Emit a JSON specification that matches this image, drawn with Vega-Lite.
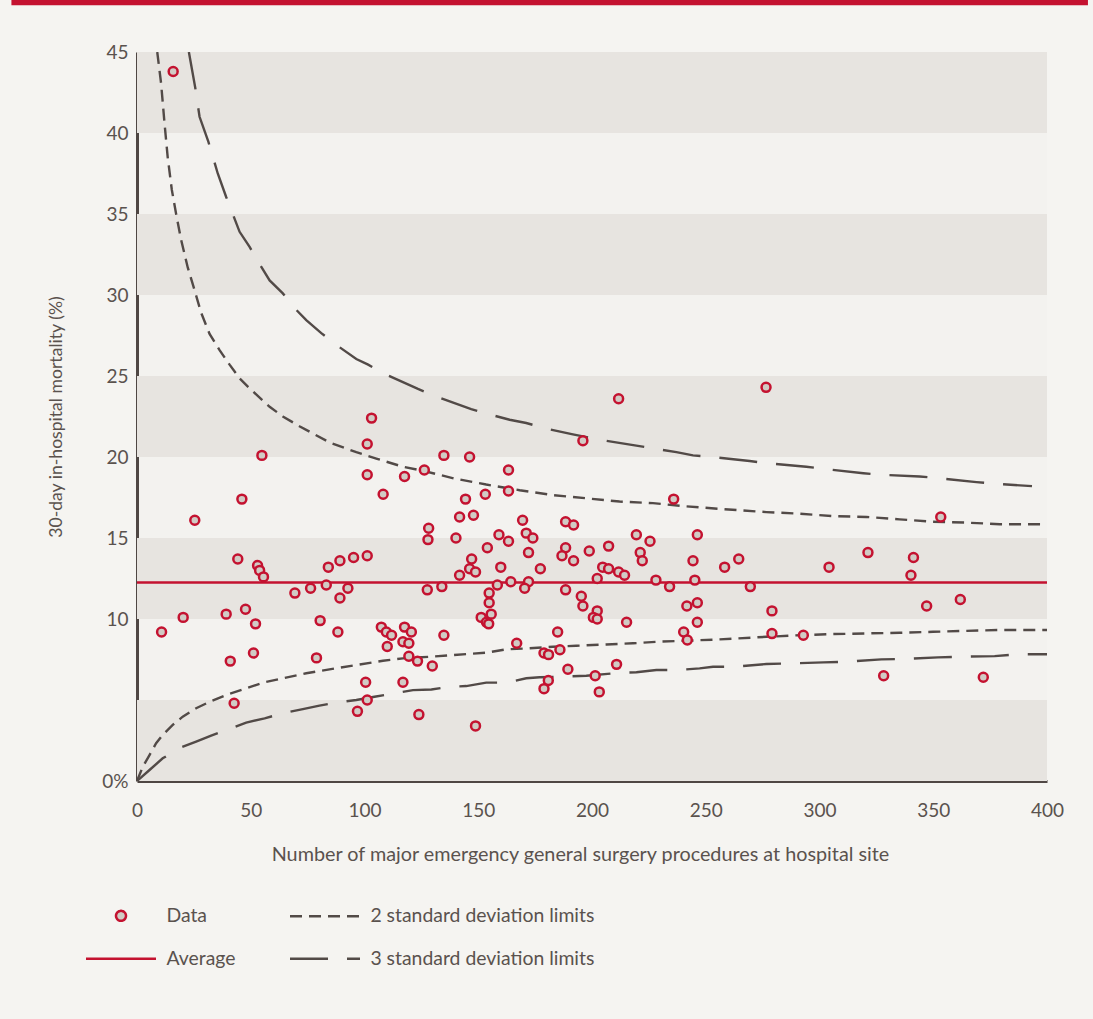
{
  "$schema": "https://vega.github.io/schema/vega-lite/v6.json",
  "width": 910,
  "height": 729,
  "autosize": {"type": "none"},
  "padding": {"left": 137, "top": 52, "right": 46, "bottom": 238},
  "background": "#f5f4f1",
  "datasets": {
    "bands": [
      {"lo": 0, "hi": 5, "from": 0, "to": 400},
      {"lo": 10, "hi": 15, "from": 0, "to": 400},
      {"lo": 20, "hi": 25, "from": 0, "to": 400},
      {"lo": 30, "hi": 35, "from": 0, "to": 400},
      {"lo": 40, "hi": 45, "from": 0, "to": 400}
    ],
    "banner": [
      {"left": -55.2, "right": 418, "bottom": 47.88, "top": 48.4}
    ],
    "limits": [
      {"series": "Average", "branch": "mid", "procedures": 0, "mortality": 12.25},
      {"series": "Average", "branch": "mid", "procedures": 400, "mortality": 12.25},

      {"series": "2 standard deviation limits", "branch": "upper", "procedures": 8.9, "mortality": 45.0},
      {"series": "2 standard deviation limits", "branch": "upper", "procedures": 10.6, "mortality": 43.05},
      {"series": "2 standard deviation limits", "branch": "upper", "procedures": 12.1, "mortality": 40.6},
      {"series": "2 standard deviation limits", "branch": "upper", "procedures": 13.5, "mortality": 38.5},
      {"series": "2 standard deviation limits", "branch": "upper", "procedures": 15.3, "mortality": 36.5},
      {"series": "2 standard deviation limits", "branch": "upper", "procedures": 17.2, "mortality": 35.0},
      {"series": "2 standard deviation limits", "branch": "upper", "procedures": 19.4, "mortality": 33.4},
      {"series": "2 standard deviation limits", "branch": "upper", "procedures": 22.3, "mortality": 31.7},
      {"series": "2 standard deviation limits", "branch": "upper", "procedures": 25.3, "mortality": 30.3},
      {"series": "2 standard deviation limits", "branch": "upper", "procedures": 28.2, "mortality": 28.9},
      {"series": "2 standard deviation limits", "branch": "upper", "procedures": 31.9, "mortality": 27.6},
      {"series": "2 standard deviation limits", "branch": "upper", "procedures": 36.3, "mortality": 26.6},
      {"series": "2 standard deviation limits", "branch": "upper", "procedures": 40.7, "mortality": 25.7},
      {"series": "2 standard deviation limits", "branch": "upper", "procedures": 45.1, "mortality": 24.85},
      {"series": "2 standard deviation limits", "branch": "upper", "procedures": 49.0, "mortality": 24.3},
      {"series": "2 standard deviation limits", "branch": "upper", "procedures": 58.3, "mortality": 23.1},
      {"series": "2 standard deviation limits", "branch": "upper", "procedures": 64.1, "mortality": 22.5},
      {"series": "2 standard deviation limits", "branch": "upper", "procedures": 71.4, "mortality": 21.9},
      {"series": "2 standard deviation limits", "branch": "upper", "procedures": 84.6, "mortality": 20.9},
      {"series": "2 standard deviation limits", "branch": "upper", "procedures": 96.4, "mortality": 20.3},
      {"series": "2 standard deviation limits", "branch": "upper", "procedures": 105.2, "mortality": 19.9},
      {"series": "2 standard deviation limits", "branch": "upper", "procedures": 116.9, "mortality": 19.4},
      {"series": "2 standard deviation limits", "branch": "upper", "procedures": 125.7, "mortality": 19.15},
      {"series": "2 standard deviation limits", "branch": "upper", "procedures": 138.7, "mortality": 18.7},
      {"series": "2 standard deviation limits", "branch": "upper", "procedures": 153.5, "mortality": 18.3},
      {"series": "2 standard deviation limits", "branch": "upper", "procedures": 168.2, "mortality": 17.95},
      {"series": "2 standard deviation limits", "branch": "upper", "procedures": 182.8, "mortality": 17.65},
      {"series": "2 standard deviation limits", "branch": "upper", "procedures": 197.5, "mortality": 17.45},
      {"series": "2 standard deviation limits", "branch": "upper", "procedures": 212.1, "mortality": 17.25},
      {"series": "2 standard deviation limits", "branch": "upper", "procedures": 226.8, "mortality": 17.15},
      {"series": "2 standard deviation limits", "branch": "upper", "procedures": 241.5, "mortality": 16.95},
      {"series": "2 standard deviation limits", "branch": "upper", "procedures": 256.1, "mortality": 16.8},
      {"series": "2 standard deviation limits", "branch": "upper", "procedures": 276.6, "mortality": 16.6},
      {"series": "2 standard deviation limits", "branch": "upper", "procedures": 291.3, "mortality": 16.5},
      {"series": "2 standard deviation limits", "branch": "upper", "procedures": 305.9, "mortality": 16.35},
      {"series": "2 standard deviation limits", "branch": "upper", "procedures": 320.6, "mortality": 16.3},
      {"series": "2 standard deviation limits", "branch": "upper", "procedures": 335.2, "mortality": 16.15},
      {"series": "2 standard deviation limits", "branch": "upper", "procedures": 349.9, "mortality": 16.0},
      {"series": "2 standard deviation limits", "branch": "upper", "procedures": 364.6, "mortality": 15.95},
      {"series": "2 standard deviation limits", "branch": "upper", "procedures": 379.2, "mortality": 15.85},
      {"series": "2 standard deviation limits", "branch": "upper", "procedures": 400, "mortality": 15.85},

      {"series": "2 standard deviation limits", "branch": "lower", "procedures": 0, "mortality": 0},
      {"series": "2 standard deviation limits", "branch": "lower", "procedures": 2.55, "mortality": 0.88},
      {"series": "2 standard deviation limits", "branch": "lower", "procedures": 5.5, "mortality": 1.6},
      {"series": "2 standard deviation limits", "branch": "lower", "procedures": 8.4, "mortality": 2.33},
      {"series": "2 standard deviation limits", "branch": "lower", "procedures": 11.3, "mortality": 2.84},
      {"series": "2 standard deviation limits", "branch": "lower", "procedures": 15.7, "mortality": 3.46},
      {"series": "2 standard deviation limits", "branch": "lower", "procedures": 20.1, "mortality": 3.97},
      {"series": "2 standard deviation limits", "branch": "lower", "procedures": 26.0, "mortality": 4.49},
      {"series": "2 standard deviation limits", "branch": "lower", "procedures": 31.9, "mortality": 4.89},
      {"series": "2 standard deviation limits", "branch": "lower", "procedures": 39.2, "mortality": 5.31},
      {"series": "2 standard deviation limits", "branch": "lower", "procedures": 48.0, "mortality": 5.72},
      {"series": "2 standard deviation limits", "branch": "lower", "procedures": 55.3, "mortality": 6.07},
      {"series": "2 standard deviation limits", "branch": "lower", "procedures": 64.1, "mortality": 6.34},
      {"series": "2 standard deviation limits", "branch": "lower", "procedures": 74.4, "mortality": 6.65},
      {"series": "2 standard deviation limits", "branch": "lower", "procedures": 84.6, "mortality": 6.89},
      {"series": "2 standard deviation limits", "branch": "lower", "procedures": 96.4, "mortality": 7.16},
      {"series": "2 standard deviation limits", "branch": "lower", "procedures": 108.1, "mortality": 7.42},
      {"series": "2 standard deviation limits", "branch": "lower", "procedures": 116.9, "mortality": 7.57},
      {"series": "2 standard deviation limits", "branch": "lower", "procedures": 128.6, "mortality": 7.67},
      {"series": "2 standard deviation limits", "branch": "lower", "procedures": 138.8, "mortality": 7.77},
      {"series": "2 standard deviation limits", "branch": "lower", "procedures": 153.5, "mortality": 7.92},
      {"series": "2 standard deviation limits", "branch": "lower", "procedures": 162.3, "mortality": 8.13},
      {"series": "2 standard deviation limits", "branch": "lower", "procedures": 172.6, "mortality": 8.19},
      {"series": "2 standard deviation limits", "branch": "lower", "procedures": 182.8, "mortality": 8.29},
      {"series": "2 standard deviation limits", "branch": "lower", "procedures": 193.1, "mortality": 8.35},
      {"series": "2 standard deviation limits", "branch": "lower", "procedures": 206.3, "mortality": 8.43},
      {"series": "2 standard deviation limits", "branch": "lower", "procedures": 218.0, "mortality": 8.5},
      {"series": "2 standard deviation limits", "branch": "lower", "procedures": 229.7, "mortality": 8.6},
      {"series": "2 standard deviation limits", "branch": "lower", "procedures": 241.5, "mortality": 8.66},
      {"series": "2 standard deviation limits", "branch": "lower", "procedures": 256.1, "mortality": 8.74},
      {"series": "2 standard deviation limits", "branch": "lower", "procedures": 276.6, "mortality": 8.9},
      {"series": "2 standard deviation limits", "branch": "lower", "procedures": 291.3, "mortality": 9.0},
      {"series": "2 standard deviation limits", "branch": "lower", "procedures": 305.9, "mortality": 9.07},
      {"series": "2 standard deviation limits", "branch": "lower", "procedures": 320.6, "mortality": 9.11},
      {"series": "2 standard deviation limits", "branch": "lower", "procedures": 335.2, "mortality": 9.15},
      {"series": "2 standard deviation limits", "branch": "lower", "procedures": 349.9, "mortality": 9.21},
      {"series": "2 standard deviation limits", "branch": "lower", "procedures": 364.6, "mortality": 9.27},
      {"series": "2 standard deviation limits", "branch": "lower", "procedures": 379.2, "mortality": 9.32},
      {"series": "2 standard deviation limits", "branch": "lower", "procedures": 400, "mortality": 9.32},

      {"series": "3 standard deviation limits", "branch": "upper", "procedures": 22.8, "mortality": 45.0},
      {"series": "3 standard deviation limits", "branch": "upper", "procedures": 25.6, "mortality": 42.8},
      {"series": "3 standard deviation limits", "branch": "upper", "procedures": 27.5, "mortality": 41.0},
      {"series": "3 standard deviation limits", "branch": "upper", "procedures": 31.4, "mortality": 39.45},
      {"series": "3 standard deviation limits", "branch": "upper", "procedures": 35.5, "mortality": 37.5},
      {"series": "3 standard deviation limits", "branch": "upper", "procedures": 39.2, "mortality": 36.05},
      {"series": "3 standard deviation limits", "branch": "upper", "procedures": 45.1, "mortality": 33.9},
      {"series": "3 standard deviation limits", "branch": "upper", "procedures": 49.5, "mortality": 32.97},
      {"series": "3 standard deviation limits", "branch": "upper", "procedures": 53.9, "mortality": 31.9},
      {"series": "3 standard deviation limits", "branch": "upper", "procedures": 58.3, "mortality": 30.9},
      {"series": "3 standard deviation limits", "branch": "upper", "procedures": 64.1, "mortality": 30.1},
      {"series": "3 standard deviation limits", "branch": "upper", "procedures": 69.2, "mortality": 29.2},
      {"series": "3 standard deviation limits", "branch": "upper", "procedures": 74.4, "mortality": 28.45},
      {"series": "3 standard deviation limits", "branch": "upper", "procedures": 81.0, "mortality": 27.65},
      {"series": "3 standard deviation limits", "branch": "upper", "procedures": 87.8, "mortality": 26.9},
      {"series": "3 standard deviation limits", "branch": "upper", "procedures": 96.4, "mortality": 26.05},
      {"series": "3 standard deviation limits", "branch": "upper", "procedures": 101.6, "mortality": 25.7},
      {"series": "3 standard deviation limits", "branch": "upper", "procedures": 109.3, "mortality": 25.1},
      {"series": "3 standard deviation limits", "branch": "upper", "procedures": 123.5, "mortality": 24.2},
      {"series": "3 standard deviation limits", "branch": "upper", "procedures": 132.3, "mortality": 23.7},
      {"series": "3 standard deviation limits", "branch": "upper", "procedures": 146.9, "mortality": 22.95},
      {"series": "3 standard deviation limits", "branch": "upper", "procedures": 155.7, "mortality": 22.6},
      {"series": "3 standard deviation limits", "branch": "upper", "procedures": 163.8, "mortality": 22.3},
      {"series": "3 standard deviation limits", "branch": "upper", "procedures": 171.1, "mortality": 22.1},
      {"series": "3 standard deviation limits", "branch": "upper", "procedures": 179.9, "mortality": 21.75},
      {"series": "3 standard deviation limits", "branch": "upper", "procedures": 191.6, "mortality": 21.4},
      {"series": "3 standard deviation limits", "branch": "upper", "procedures": 204.1, "mortality": 21.05},
      {"series": "3 standard deviation limits", "branch": "upper", "procedures": 219.5, "mortality": 20.7},
      {"series": "3 standard deviation limits", "branch": "upper", "procedures": 228.3, "mortality": 20.5},
      {"series": "3 standard deviation limits", "branch": "upper", "procedures": 237.1, "mortality": 20.3},
      {"series": "3 standard deviation limits", "branch": "upper", "procedures": 244.4, "mortality": 20.1},
      {"series": "3 standard deviation limits", "branch": "upper", "procedures": 253.2, "mortality": 20.0},
      {"series": "3 standard deviation limits", "branch": "upper", "procedures": 269.3, "mortality": 19.75},
      {"series": "3 standard deviation limits", "branch": "upper", "procedures": 278.1, "mortality": 19.6},
      {"series": "3 standard deviation limits", "branch": "upper", "procedures": 294.2, "mortality": 19.4},
      {"series": "3 standard deviation limits", "branch": "upper", "procedures": 303.0, "mortality": 19.25},
      {"series": "3 standard deviation limits", "branch": "upper", "procedures": 319.3, "mortality": 19.0},
      {"series": "3 standard deviation limits", "branch": "upper", "procedures": 327.2, "mortality": 18.9},
      {"series": "3 standard deviation limits", "branch": "upper", "procedures": 344.0, "mortality": 18.8},
      {"series": "3 standard deviation limits", "branch": "upper", "procedures": 352.1, "mortality": 18.7},
      {"series": "3 standard deviation limits", "branch": "upper", "procedures": 369.0, "mortality": 18.45},
      {"series": "3 standard deviation limits", "branch": "upper", "procedures": 377.0, "mortality": 18.35},
      {"series": "3 standard deviation limits", "branch": "upper", "procedures": 393.4, "mortality": 18.2},

      {"series": "3 standard deviation limits", "branch": "lower", "procedures": 0, "mortality": 0},
      {"series": "3 standard deviation limits", "branch": "lower", "procedures": 5.5, "mortality": 0.68},
      {"series": "3 standard deviation limits", "branch": "lower", "procedures": 11.3, "mortality": 1.4},
      {"series": "3 standard deviation limits", "branch": "lower", "procedures": 19.4, "mortality": 2.08},
      {"series": "3 standard deviation limits", "branch": "lower", "procedures": 26.0, "mortality": 2.43},
      {"series": "3 standard deviation limits", "branch": "lower", "procedures": 32.6, "mortality": 2.8},
      {"series": "3 standard deviation limits", "branch": "lower", "procedures": 41.4, "mortality": 3.25},
      {"series": "3 standard deviation limits", "branch": "lower", "procedures": 48.0, "mortality": 3.6},
      {"series": "3 standard deviation limits", "branch": "lower", "procedures": 56.1, "mortality": 3.87},
      {"series": "3 standard deviation limits", "branch": "lower", "procedures": 64.1, "mortality": 4.18},
      {"series": "3 standard deviation limits", "branch": "lower", "procedures": 72.9, "mortality": 4.44},
      {"series": "3 standard deviation limits", "branch": "lower", "procedures": 80.2, "mortality": 4.65},
      {"series": "3 standard deviation limits", "branch": "lower", "procedures": 88.3, "mortality": 4.86},
      {"series": "3 standard deviation limits", "branch": "lower", "procedures": 96.4, "mortality": 5.0},
      {"series": "3 standard deviation limits", "branch": "lower", "procedures": 104.4, "mortality": 5.2},
      {"series": "3 standard deviation limits", "branch": "lower", "procedures": 113.2, "mortality": 5.41},
      {"series": "3 standard deviation limits", "branch": "lower", "procedures": 121.3, "mortality": 5.61},
      {"series": "3 standard deviation limits", "branch": "lower", "procedures": 129.4, "mortality": 5.65},
      {"series": "3 standard deviation limits", "branch": "lower", "procedures": 137.4, "mortality": 5.82},
      {"series": "3 standard deviation limits", "branch": "lower", "procedures": 144.7, "mortality": 5.86},
      {"series": "3 standard deviation limits", "branch": "lower", "procedures": 153.5, "mortality": 6.07},
      {"series": "3 standard deviation limits", "branch": "lower", "procedures": 162.3, "mortality": 6.07},
      {"series": "3 standard deviation limits", "branch": "lower", "procedures": 171.1, "mortality": 6.34},
      {"series": "3 standard deviation limits", "branch": "lower", "procedures": 177.0, "mortality": 6.4},
      {"series": "3 standard deviation limits", "branch": "lower", "procedures": 187.2, "mortality": 6.44},
      {"series": "3 standard deviation limits", "branch": "lower", "procedures": 197.5, "mortality": 6.5},
      {"series": "3 standard deviation limits", "branch": "lower", "procedures": 212.1, "mortality": 6.68},
      {"series": "3 standard deviation limits", "branch": "lower", "procedures": 219.5, "mortality": 6.71},
      {"series": "3 standard deviation limits", "branch": "lower", "procedures": 228.3, "mortality": 6.85},
      {"series": "3 standard deviation limits", "branch": "lower", "procedures": 237.1, "mortality": 6.85},
      {"series": "3 standard deviation limits", "branch": "lower", "procedures": 247.3, "mortality": 6.95},
      {"series": "3 standard deviation limits", "branch": "lower", "procedures": 253.2, "mortality": 7.05},
      {"series": "3 standard deviation limits", "branch": "lower", "procedures": 262.0, "mortality": 7.05},
      {"series": "3 standard deviation limits", "branch": "lower", "procedures": 276.6, "mortality": 7.22},
      {"series": "3 standard deviation limits", "branch": "lower", "procedures": 286.9, "mortality": 7.26},
      {"series": "3 standard deviation limits", "branch": "lower", "procedures": 301.7, "mortality": 7.32},
      {"series": "3 standard deviation limits", "branch": "lower", "procedures": 311.8, "mortality": 7.36},
      {"series": "3 standard deviation limits", "branch": "lower", "procedures": 327.2, "mortality": 7.51},
      {"series": "3 standard deviation limits", "branch": "lower", "procedures": 336.7, "mortality": 7.53},
      {"series": "3 standard deviation limits", "branch": "lower", "procedures": 352.1, "mortality": 7.63},
      {"series": "3 standard deviation limits", "branch": "lower", "procedures": 361.6, "mortality": 7.67},
      {"series": "3 standard deviation limits", "branch": "lower", "procedures": 377.0, "mortality": 7.71},
      {"series": "3 standard deviation limits", "branch": "lower", "procedures": 386.6, "mortality": 7.82},
      {"series": "3 standard deviation limits", "branch": "lower", "procedures": 400, "mortality": 7.82}
    ],
    "hospitals": [
      {"procedures": 15.9, "mortality": 43.8}, {"procedures": 25.4, "mortality": 16.1},
      {"procedures": 10.8, "mortality": 9.2}, {"procedures": 20.3, "mortality": 10.1},
      {"procedures": 39.2, "mortality": 10.3}, {"procedures": 47.7, "mortality": 10.6},
      {"procedures": 52.1, "mortality": 9.7}, {"procedures": 44.3, "mortality": 13.7},
      {"procedures": 46.1, "mortality": 17.4}, {"procedures": 53.0, "mortality": 13.3},
      {"procedures": 53.9, "mortality": 13.0}, {"procedures": 55.6, "mortality": 12.6},
      {"procedures": 54.9, "mortality": 20.1}, {"procedures": 41.0, "mortality": 7.4},
      {"procedures": 51.2, "mortality": 7.9}, {"procedures": 42.7, "mortality": 4.8},
      {"procedures": 69.4, "mortality": 11.6}, {"procedures": 76.3, "mortality": 11.9},
      {"procedures": 83.2, "mortality": 12.1}, {"procedures": 84.1, "mortality": 13.2},
      {"procedures": 89.2, "mortality": 13.6}, {"procedures": 92.7, "mortality": 11.9},
      {"procedures": 89.2, "mortality": 11.3}, {"procedures": 95.2, "mortality": 13.8},
      {"procedures": 101.2, "mortality": 13.9}, {"procedures": 80.5, "mortality": 9.9},
      {"procedures": 88.3, "mortality": 9.2}, {"procedures": 78.9, "mortality": 7.6},
      {"procedures": 103.1, "mortality": 22.4}, {"procedures": 101.2, "mortality": 20.8},
      {"procedures": 101.2, "mortality": 18.9}, {"procedures": 108.2, "mortality": 17.7},
      {"procedures": 117.6, "mortality": 18.8}, {"procedures": 126.3, "mortality": 19.2},
      {"procedures": 128.2, "mortality": 15.6}, {"procedures": 127.9, "mortality": 14.9},
      {"procedures": 127.6, "mortality": 11.8}, {"procedures": 107.4, "mortality": 9.5},
      {"procedures": 109.6, "mortality": 9.2}, {"procedures": 111.9, "mortality": 9.0},
      {"procedures": 117.6, "mortality": 9.5}, {"procedures": 120.6, "mortality": 9.2},
      {"procedures": 110.0, "mortality": 8.3}, {"procedures": 116.9, "mortality": 8.6},
      {"procedures": 119.5, "mortality": 8.5}, {"procedures": 119.5, "mortality": 7.7},
      {"procedures": 123.3, "mortality": 7.4}, {"procedures": 123.9, "mortality": 4.1},
      {"procedures": 100.5, "mortality": 6.1}, {"procedures": 116.9, "mortality": 6.1},
      {"procedures": 101.2, "mortality": 5.0}, {"procedures": 96.9, "mortality": 4.3},
      {"procedures": 129.8, "mortality": 7.1}, {"procedures": 211.7, "mortality": 23.6},
      {"procedures": 196.0, "mortality": 21.0}, {"procedures": 134.9, "mortality": 20.1},
      {"procedures": 146.2, "mortality": 20.0}, {"procedures": 163.3, "mortality": 19.2},
      {"procedures": 163.3, "mortality": 17.9}, {"procedures": 144.4, "mortality": 17.4},
      {"procedures": 153.1, "mortality": 17.7}, {"procedures": 235.9, "mortality": 17.4},
      {"procedures": 141.8, "mortality": 16.3}, {"procedures": 147.9, "mortality": 16.4},
      {"procedures": 140.2, "mortality": 15.0}, {"procedures": 169.5, "mortality": 16.1},
      {"procedures": 188.4, "mortality": 16.0}, {"procedures": 191.9, "mortality": 15.8},
      {"procedures": 159.1, "mortality": 15.2}, {"procedures": 163.3, "mortality": 14.8},
      {"procedures": 171.1, "mortality": 15.3}, {"procedures": 174.0, "mortality": 15.0},
      {"procedures": 154.0, "mortality": 14.4}, {"procedures": 172.1, "mortality": 14.1},
      {"procedures": 188.4, "mortality": 14.4}, {"procedures": 186.8, "mortality": 13.9},
      {"procedures": 191.9, "mortality": 13.6}, {"procedures": 198.8, "mortality": 14.2},
      {"procedures": 207.3, "mortality": 14.5}, {"procedures": 219.5, "mortality": 15.2},
      {"procedures": 225.5, "mortality": 14.8}, {"procedures": 246.3, "mortality": 15.2},
      {"procedures": 221.2, "mortality": 14.1}, {"procedures": 222.1, "mortality": 13.6},
      {"procedures": 244.4, "mortality": 13.6}, {"procedures": 147.1, "mortality": 13.7},
      {"procedures": 146.2, "mortality": 13.1}, {"procedures": 148.8, "mortality": 12.9},
      {"procedures": 141.8, "mortality": 12.7}, {"procedures": 159.9, "mortality": 13.2},
      {"procedures": 177.3, "mortality": 13.1}, {"procedures": 204.7, "mortality": 13.2},
      {"procedures": 207.3, "mortality": 13.1}, {"procedures": 211.7, "mortality": 12.9},
      {"procedures": 214.3, "mortality": 12.7}, {"procedures": 134.0, "mortality": 12.0},
      {"procedures": 158.4, "mortality": 12.1}, {"procedures": 164.3, "mortality": 12.3},
      {"procedures": 172.1, "mortality": 12.3}, {"procedures": 170.4, "mortality": 11.9},
      {"procedures": 154.8, "mortality": 11.6}, {"procedures": 154.8, "mortality": 11.0},
      {"procedures": 202.3, "mortality": 12.5}, {"procedures": 228.1, "mortality": 12.4},
      {"procedures": 234.1, "mortality": 12.0}, {"procedures": 245.2, "mortality": 12.4},
      {"procedures": 188.4, "mortality": 11.8}, {"procedures": 195.3, "mortality": 11.4},
      {"procedures": 196.0, "mortality": 10.8}, {"procedures": 202.3, "mortality": 10.5},
      {"procedures": 200.6, "mortality": 10.1}, {"procedures": 202.3, "mortality": 10.0},
      {"procedures": 215.2, "mortality": 9.8}, {"procedures": 241.7, "mortality": 10.8},
      {"procedures": 246.3, "mortality": 11.0}, {"procedures": 246.3, "mortality": 9.8},
      {"procedures": 155.7, "mortality": 10.3}, {"procedures": 151.3, "mortality": 10.1},
      {"procedures": 153.6, "mortality": 9.8}, {"procedures": 154.6, "mortality": 9.7},
      {"procedures": 134.9, "mortality": 9.0}, {"procedures": 166.9, "mortality": 8.5},
      {"procedures": 184.9, "mortality": 9.2}, {"procedures": 185.9, "mortality": 8.1},
      {"procedures": 178.9, "mortality": 7.9}, {"procedures": 180.9, "mortality": 7.8},
      {"procedures": 189.4, "mortality": 6.9}, {"procedures": 210.8, "mortality": 7.2},
      {"procedures": 201.4, "mortality": 6.5}, {"procedures": 180.8, "mortality": 6.2},
      {"procedures": 178.9, "mortality": 5.7}, {"procedures": 203.2, "mortality": 5.5},
      {"procedures": 240.3, "mortality": 9.2}, {"procedures": 241.9, "mortality": 8.7},
      {"procedures": 148.8, "mortality": 3.4}, {"procedures": 276.5, "mortality": 24.3},
      {"procedures": 258.3, "mortality": 13.2}, {"procedures": 264.5, "mortality": 13.7},
      {"procedures": 269.6, "mortality": 12.0}, {"procedures": 279.1, "mortality": 10.5},
      {"procedures": 279.1, "mortality": 9.1}, {"procedures": 292.9, "mortality": 9.0},
      {"procedures": 304.2, "mortality": 13.2}, {"procedures": 321.3, "mortality": 14.1},
      {"procedures": 341.3, "mortality": 13.8}, {"procedures": 340.2, "mortality": 12.7},
      {"procedures": 353.3, "mortality": 16.3}, {"procedures": 347.1, "mortality": 10.8},
      {"procedures": 361.9, "mortality": 11.2}, {"procedures": 328.2, "mortality": 6.5},
      {"procedures": 372.0, "mortality": 6.4}
    ]
  },
  "layer": [
    {
      "data": {"name": "banner"},
      "mark": {"type": "rect", "color": "#c41230"},
      "encoding": {
        "x": {"field": "left", "type": "quantitative", "scale": {"domain": [0, 400], "nice": false}},
        "x2": {"field": "right"},
        "y": {"field": "bottom", "type": "quantitative", "scale": {"domain": [0, 45], "nice": false}},
        "y2": {"field": "top"}
      }
    },
    {
      "data": {"name": "bands"},
      "mark": {"type": "rect", "color": "#e7e4e0"},
      "encoding": {
        "x": {"field": "from", "type": "quantitative"},
        "x2": {"field": "to"},
        "y": {"field": "lo", "type": "quantitative"},
        "y2": {"field": "hi"}
      }
    },
    {
      "data": {"name": "limits"},
      "mark": {"type": "line", "strokeWidth": 2.4, "clip": true},
      "encoding": {
        "x": {"field": "procedures", "type": "quantitative"},
        "y": {"field": "mortality", "type": "quantitative"},
        "detail": {"field": "branch"},
        "stroke": {
          "field": "series",
          "type": "nominal",
          "scale": {
            "domain": ["Data", "Average", "2 standard deviation limits", "3 standard deviation limits"],
            "range": ["#c41230", "#c41230", "#524a47", "#524a47"]
          },
          "legend": {
            "title": null,
            "orient": "none",
            "legendX": -51,
            "legendY": 854,
            "columns": 2,
            "columnPadding": 49,
            "rowPadding": 22,
            "padding": 0,
            "symbolSize": 100,
            "symbolStrokeWidth": 2.5,
            "labelOffset": 61,
            "labelLimit": 0,
            "labelFontSize": 19.4,
            "labelColor": "#5a524e",
            "encode": {
              "symbols": {
                "update": {
                  "x": {"value": 35},
                  "fill": {"signal": "datum.value === 'Data' ? '#d1cbc5' : 'transparent'"},
                  "strokeWidth": {"value": 2.5},
                  "opacity": {"value": 1}
                }
              }
            }
          }
        },
        "strokeDash": {
          "field": "series",
          "type": "nominal",
          "scale": {
            "domain": ["Data", "Average", "2 standard deviation limits", "3 standard deviation limits"],
            "range": [[1, 0], [1, 0], [12, 7], [38, 19]]
          },
          "legend": {
            "title": null,
            "orient": "none",
            "legendX": -51,
            "legendY": 854,
            "columns": 2,
            "columnPadding": 49,
            "rowPadding": 22,
            "padding": 0,
            "symbolSize": 100,
            "symbolStrokeWidth": 2.5,
            "labelOffset": 61,
            "labelLimit": 0,
            "labelFontSize": 19.4,
            "labelColor": "#5a524e",
            "encode": {
              "symbols": {
                "update": {
                  "x": {"value": 35},
                  "fill": {"signal": "datum.value === 'Data' ? '#d1cbc5' : 'transparent'"},
                  "strokeWidth": {"value": 2.5},
                  "opacity": {"value": 1}
                }
              }
            }
          }
        }
      }
    },
    {
      "data": {"name": "hospitals"},
      "mark": {"type": "point", "filled": true, "fill": "#d1cbc5", "size": 80, "strokeWidth": 2.5, "opacity": 1},
      "encoding": {
        "x": {
          "field": "procedures",
          "type": "quantitative",
          "axis": {
            "title": "Number of major emergency general surgery procedures at hospital site",
            "values": [0, 50, 100, 150, 200, 250, 300, 350, 400],
            "titleX": 443
          }
        },
        "y": {
          "field": "mortality",
          "type": "quantitative",
          "axis": {
            "title": "30-day in-hospital mortality (%)",
            "values": [0, 10, 15, 20, 25, 30, 35, 40, 45],
            "labelExpr": "datum.value === 0 ? '0%' : datum.label"
          }
        },
        "shape": {
          "datum": "Data",
          "type": "nominal",
          "scale": {
            "domain": ["Data", "Average", "2 standard deviation limits", "3 standard deviation limits"],
            "range": ["circle", "M-7,0H7", "M-7,0H7", "M-7,0H7"]
          },
          "legend": {
            "title": null,
            "orient": "none",
            "legendX": -51,
            "legendY": 854,
            "columns": 2,
            "columnPadding": 49,
            "rowPadding": 22,
            "padding": 0,
            "symbolSize": 100,
            "symbolStrokeWidth": 2.5,
            "labelOffset": 61,
            "labelLimit": 0,
            "labelFontSize": 19.4,
            "labelColor": "#5a524e",
            "encode": {
              "symbols": {
                "update": {
                  "x": {"value": 35},
                  "fill": {"signal": "datum.value === 'Data' ? '#d1cbc5' : 'transparent'"},
                  "strokeWidth": {"value": 2.5},
                  "opacity": {"value": 1}
                }
              }
            }
          }
        },
        "stroke": {
          "datum": "Data",
          "type": "nominal",
          "scale": {
            "domain": ["Data", "Average", "2 standard deviation limits", "3 standard deviation limits"],
            "range": ["#c41230", "#c41230", "#524a47", "#524a47"]
          },
          "legend": {
            "title": null,
            "orient": "none",
            "legendX": -51,
            "legendY": 854,
            "columns": 2,
            "columnPadding": 49,
            "rowPadding": 22,
            "padding": 0,
            "symbolSize": 100,
            "symbolStrokeWidth": 2.5,
            "labelOffset": 61,
            "labelLimit": 0,
            "labelFontSize": 19.4,
            "labelColor": "#5a524e",
            "encode": {
              "symbols": {
                "update": {
                  "x": {"value": 35},
                  "fill": {"signal": "datum.value === 'Data' ? '#d1cbc5' : 'transparent'"},
                  "strokeWidth": {"value": 2.5},
                  "opacity": {"value": 1}
                }
              }
            }
          }
        }
      }
    }
  ],
  "resolve": {"scale": {"x": "shared", "y": "shared"}},
  "config": {
    "font": "Lato",
    "view": {"stroke": null, "fill": "#f3f2ef"},
    "axis": {
      "grid": false,
      "ticks": false,
      "tickSize": 0,
      "domainColor": "#4f4744",
      "domainWidth": 3,
      "labelColor": "#5a524e",
      "labelFontSize": 19,
      "titleColor": "#5a524e",
      "titleFontSize": 17.6,
      "titleFontWeight": "normal"
    },
    "axisX": {"labelPadding": 20, "titlePadding": 24, "labelFlush": false, "titleFontSize": 19.8},
    "axisY": {"labelPadding": 9, "titlePadding": 36}
  }
}
